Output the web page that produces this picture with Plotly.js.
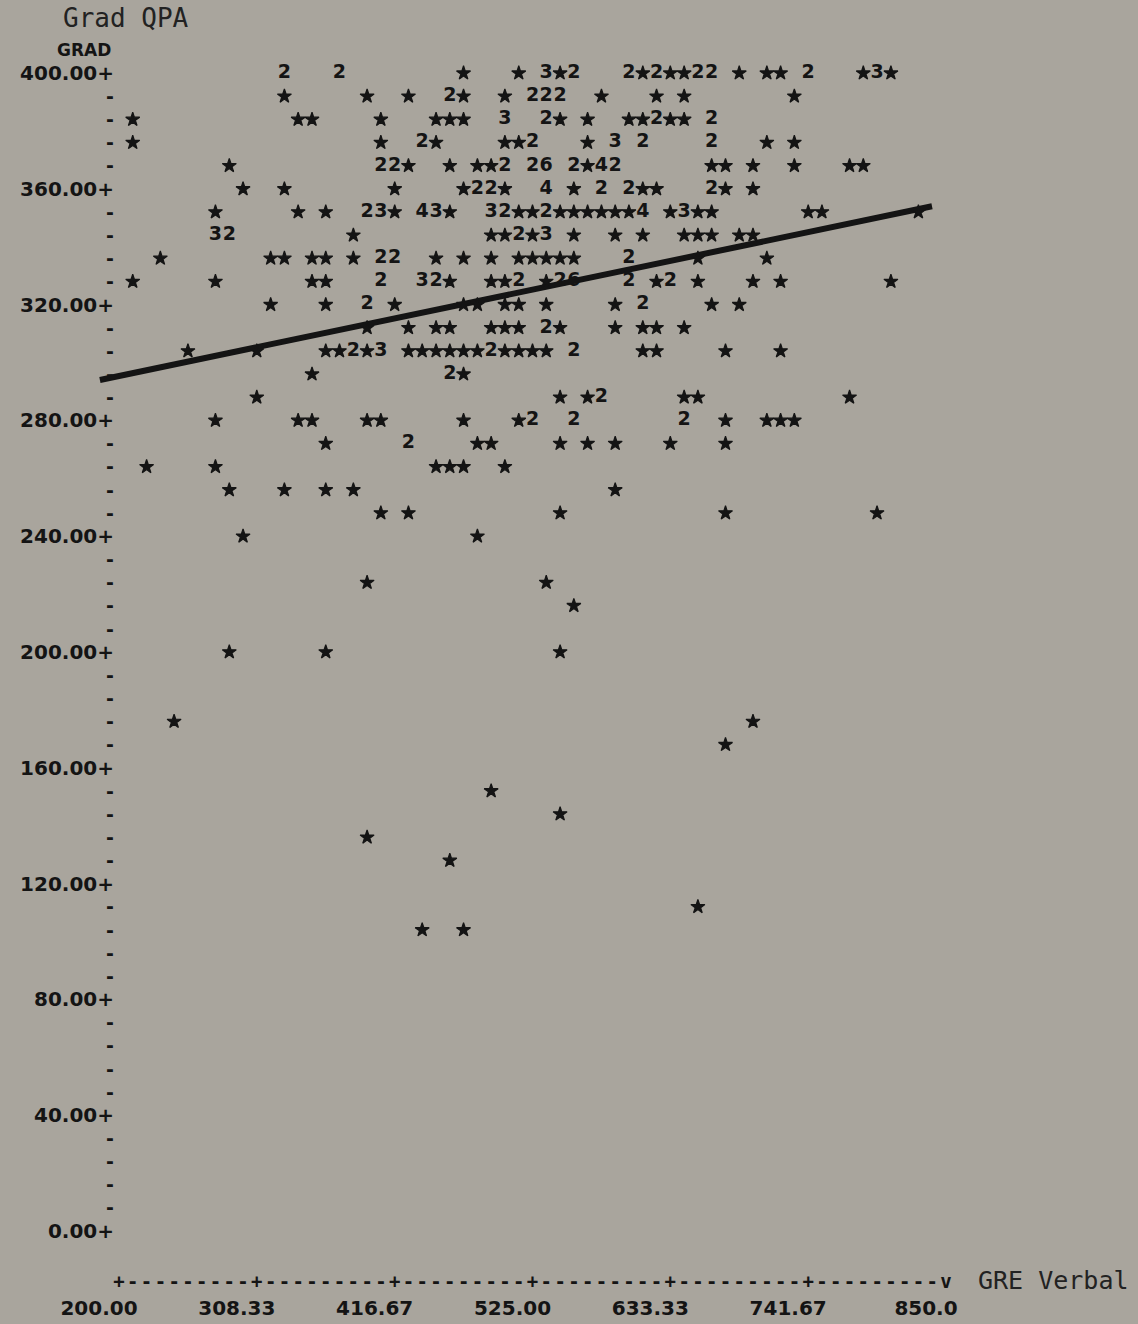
<!DOCTYPE html>
<html>
<head>
<meta charset="utf-8">
<script src="https://cdn.plot.ly/plotly-3.0.1.min.js"></script>
<style>
html,body{margin:0;padding:0;background:#a9a59d;}
#chart{width:1138px;height:1324px;}
</style>
</head>
<body>
<div id="chart"></div>
<script>
// ---- Data (GRE Verbal vs Grad QPA) ----
// Rows of the line-printer plot (Grad QPA value of each printed row)
const singleRowsQPA = [400, 392, 384, 376, 368, 360, 352, 344, 336, 328, 320, 312, 304, 296, 288, 280, 272, 264, 256, 248, 240, 224, 216, 200, 176, 168, 152, 144, 136, 128, 112, 104];
// GRE Verbal of single observations ("*") in each row
const singleRowsGRE = [
  [470.8, 514.2, 546.7, 611.7, 633.3, 644.2, 687.5, 709.2, 720.0, 785.0, 806.7],
  [330.0, 395.0, 427.5, 470.8, 503.3, 579.2, 622.5, 644.2, 730.8],
  [210.8, 340.8, 351.7, 405.8, 449.2, 460.0, 470.8, 546.7, 568.3, 600.8, 611.7, 633.3, 644.2],
  [210.8, 405.8, 449.2, 503.3, 514.2, 568.3, 709.2, 730.8],
  [286.7, 427.5, 460.0, 481.7, 492.5, 568.3, 665.8, 676.7, 698.3, 730.8, 774.2, 785.0],
  [297.5, 330.0, 416.7, 470.8, 503.3, 557.5, 611.7, 622.5, 676.7, 698.3],
  [275.8, 340.8, 362.5, 416.7, 460.0, 514.2, 525.0, 546.7, 557.5, 568.3, 579.2, 590.0, 600.8, 633.3, 655.0, 665.8, 741.7, 752.5, 828.3],
  [384.2, 492.5, 503.3, 525.0, 557.5, 590.0, 611.7, 644.2, 655.0, 665.8, 687.5, 698.3],
  [232.5, 319.2, 330.0, 351.7, 362.5, 384.2, 449.2, 470.8, 492.5, 514.2, 525.0, 535.8, 546.7, 557.5, 655.0, 709.2],
  [210.8, 275.8, 351.7, 362.5, 460.0, 492.5, 503.3, 535.8, 622.5, 655.0, 698.3, 720.0, 806.7],
  [319.2, 362.5, 416.7, 470.8, 481.7, 503.3, 514.2, 535.8, 590.0, 665.8, 687.5],
  [395.0, 427.5, 449.2, 460.0, 492.5, 503.3, 514.2, 546.7, 590.0, 611.7, 622.5, 644.2],
  [254.2, 308.3, 362.5, 373.3, 395.0, 427.5, 438.3, 449.2, 460.0, 470.8, 481.7, 503.3, 514.2, 525.0, 535.8, 611.7, 622.5, 676.7, 720.0],
  [351.7, 470.8],
  [308.3, 546.7, 568.3, 644.2, 655.0, 774.2],
  [275.8, 340.8, 351.7, 395.0, 405.8, 470.8, 514.2, 676.7, 709.2, 720.0, 730.8],
  [362.5, 481.7, 492.5, 546.7, 568.3, 590.0, 633.3, 676.7],
  [221.7, 275.8, 449.2, 460.0, 470.8, 503.3],
  [286.7, 330.0, 362.5, 384.2, 590.0],
  [405.8, 427.5, 546.7, 676.7, 795.8],
  [297.5, 481.7],
  [395.0, 535.8],
  [557.5],
  [286.7, 362.5, 546.7],
  [243.3, 698.3],
  [676.7],
  [492.5],
  [546.7],
  [395.0],
  [460.0],
  [655.0],
  [438.3, 470.8]
];
// Cells holding several observations (printed as a digit)
const multiRowsQPA = [400, 392, 384, 376, 368, 360, 352, 344, 336, 328, 320, 312, 304, 296, 288, 280, 272];
const multiRowsGRE = [
  [330.0, 373.3, 535.8, 557.5, 600.8, 622.5, 655.0, 665.8, 741.7, 795.8],
  [460.0, 525.0, 535.8, 546.7],
  [503.3, 535.8, 622.5, 665.8],
  [438.3, 525.0, 590.0, 611.7, 665.8],
  [405.8, 416.7, 503.3, 525.0, 535.8, 557.5, 579.2, 590.0],
  [481.7, 492.5, 535.8, 579.2, 600.8, 665.8],
  [395.0, 405.8, 438.3, 449.2, 492.5, 503.3, 535.8, 611.7, 644.2],
  [275.8, 286.7, 514.2, 535.8],
  [405.8, 416.7, 600.8],
  [405.8, 438.3, 449.2, 514.2, 546.7, 557.5, 600.8, 633.3],
  [395.0, 611.7],
  [535.8],
  [384.2, 405.8, 492.5, 557.5],
  [460.0],
  [579.2],
  [525.0, 557.5, 644.2],
  [427.5]
];
const multiRowsCount = [
  [2, 2, 3, 2, 2, 2, 2, 2, 2, 3],
  [2, 2, 2, 2],
  [3, 2, 2, 2],
  [2, 2, 3, 2, 2],
  [2, 2, 2, 2, 6, 2, 4, 2],
  [2, 2, 4, 2, 2, 2],
  [2, 3, 4, 3, 3, 2, 2, 4, 3],
  [3, 2, 2, 3],
  [2, 2, 2],
  [2, 3, 2, 2, 2, 6, 2, 2],
  [2, 2],
  [2],
  [2, 3, 2, 2],
  [2],
  [2],
  [2, 2, 2],
  [2]
];
// Hand-drawn regression line (end points, read against the printed rows)
const lineGRE = [185, 839];
const lineQPA = [294, 354];
// Axis labels
const yTickValues = [0, 40, 80, 120, 160, 200, 240, 280, 320, 360, 400];
const yTickLabels = ['0.00+', '40.00+', '80.00+', '120.00+', '160.00+', '200.00+', '240.00+', '280.00+', '320.00+', '360.00+', '400.00+'];
const xTickValues = [200, 308.33, 416.67, 525, 633.33, 741.67, 850];
const xTickLabels = ['200.00', '308.33', '416.67', '525.00', '633.33', '741.67', '850.0'];

// ---- build traces ----
const sx = [], sy = [];
singleRowsQPA.forEach((q, i) => singleRowsGRE[i].forEach(g => { sx.push(g); sy.push(q); }));
const mx = [], my = [], mt = [];
multiRowsQPA.forEach((q, i) => multiRowsGRE[i].forEach((g, j) => { mx.push(g); my.push(q); mt.push(String(multiRowsCount[i][j])); }));

// y axis: major labels, and 4 minor "-" marks between majors
const yMinor = [];
for (let k = 0; k < yTickValues.length - 1; k++) {
  const step = (yTickValues[k + 1] - yTickValues[k]) / 5;
  for (let m = 1; m < 5; m++) yMinor.push(yTickValues[k] + m * step);
}
// x axis print row: "+" at majors, 9 "-" between, "v" at the end
const xMajorMarks = xTickValues.map((v, k) => k === xTickValues.length - 1 ? 'v' : '+');
const xMinor = [];
for (let k = 0; k < xTickValues.length - 1; k++) {
  const step = (xTickValues[k + 1] - xTickValues[k]) / 10;
  for (let m = 1; m < 10; m++) xMinor.push(xTickValues[k] + m * step);
}

const INK = '#141414';
const BG = '#a9a59d';
const labelFont = {family: 'DejaVu Sans, sans-serif', size: 20, color: INK, weight: 'bold'};
const digitFont = {family: 'DejaVu Sans, sans-serif', size: 19, color: INK, weight: 'bold'};
const yDashFont = {family: 'DejaVu Sans, sans-serif', size: 19, color: INK, weight: 'bold'};
const xDashFont = {family: 'DejaVu Sans, sans-serif', size: 19, color: INK, weight: 'bold'};
const xRange = [183.5, 861];
const yRange = [-12.8, 408];
const yPos = 16 / 862;

const traces = [
  {x: lineGRE, y: lineQPA, type: 'scatter', mode: 'lines', line: {color: INK, width: 6}, hoverinfo: 'skip', showlegend: false},
  {x: sx, y: sy, type: 'scatter', mode: 'markers', marker: {symbol: 'star', size: 10.5, color: INK, line: {width: 1.2, color: INK}}, showlegend: false},
  {x: mx, y: my, type: 'scatter', mode: 'text', text: mt, textposition: 'middle center', textfont: digitFont, showlegend: false},
  // invisible anchors so the overlay axes are drawn
  {x: [xRange[0]], y: [-100], xaxis: 'x2', yaxis: 'y', type: 'scatter', mode: 'markers', marker: {opacity: 0}, hoverinfo: 'skip', showlegend: false},
  {x: [xRange[0]], y: [-100], xaxis: 'x3', yaxis: 'y', type: 'scatter', mode: 'markers', marker: {opacity: 0}, hoverinfo: 'skip', showlegend: false},
  {x: [xRange[0]], y: [-100], xaxis: 'x', yaxis: 'y2', type: 'scatter', mode: 'markers', marker: {opacity: 0}, hoverinfo: 'skip', showlegend: false}
];

const noAxis = {showgrid: false, zeroline: false, showline: false, ticks: '', fixedrange: true, tickmode: 'array'};

const layout = {
  width: 1138, height: 1324,
  paper_bgcolor: BG, plot_bgcolor: BG,
  margin: {l: 98, r: 178, t: 50, b: 56},
  showlegend: false,
  title: {text: 'Grad QPA', x: 63 / 1138, xanchor: 'left', xref: 'container', y: 1 - 18 / 1324, yanchor: 'middle', yref: 'container',
          font: {family: 'DejaVu Sans Mono, monospace', size: 26, color: '#222'}},
  // the printed axis row: "+" marks and final "v"
  xaxis: Object.assign({}, noAxis, {range: xRange, tickvals: xTickValues, ticktext: xMajorMarks, tickangle: 0, ticklabelstandoff: 0,
          tickfont: {family: 'DejaVu Sans Mono, monospace', size: 19, color: INK, weight: 'bold'}}),
  // numeric labels under the axis row
  xaxis2: Object.assign({}, noAxis, {range: xRange, overlaying: 'x', anchor: 'y', side: 'bottom', tickvals: xTickValues, ticktext: xTickLabels, tickangle: 0,
           ticklabelstandoff: 26, ticklabelshift: -20, tickfont: labelFont}),
  // dashes of the axis row
  xaxis3: Object.assign({}, noAxis, {range: xRange, overlaying: 'x', anchor: 'y', side: 'bottom', tickvals: xMinor, ticktext: xMinor.map(() => '-'), tickangle: 0,
           ticklabelstandoff: 0, tickfont: xDashFont}),
  yaxis: Object.assign({}, noAxis, {range: yRange, anchor: 'free', position: yPos, tickvals: yTickValues, ticktext: yTickLabels, tickfont: labelFont}),
  yaxis2: Object.assign({}, noAxis, {range: yRange, overlaying: 'y', anchor: 'free', position: yPos, side: 'left', tickvals: yMinor, ticktext: yMinor.map(() => '-'), tickfont: yDashFont}),
  annotations: [
    {text: 'GRAD', xref: 'paper', yref: 'y', x: 15 / 862, y: 408, xanchor: 'right', yanchor: 'middle', showarrow: false,
     font: {family: 'DejaVu Sans, sans-serif', size: 17, color: INK, weight: 'bold'}},
    {text: 'GRE Verbal', xref: 'paper', yref: 'paper', x: (976 - 98) / 862, y: -12 / 1218, xanchor: 'left', yanchor: 'middle', showarrow: false,
     font: {family: 'DejaVu Sans Mono, monospace', size: 25, color: '#222'}}
  ]
};

Plotly.newPlot('chart', traces, layout, {staticPlot: true, displayModeBar: false});
</script>
</body>
</html>
